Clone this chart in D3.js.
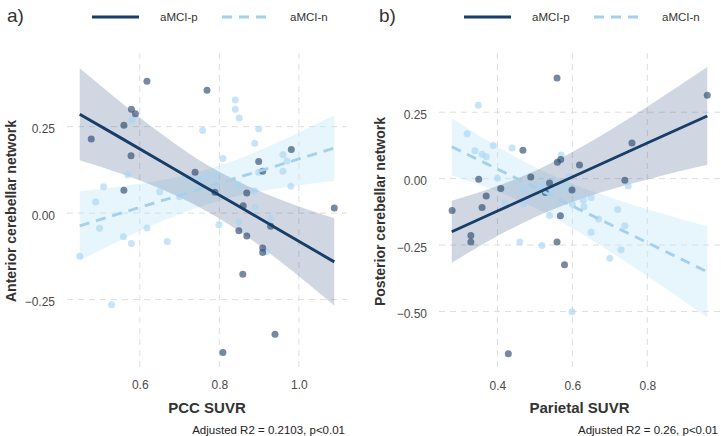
<!DOCTYPE html>
<html><head><meta charset="utf-8">
<script src="https://cdn.jsdelivr.net/npm/d3@7"></script>
<style>body{margin:0;background:#fff}svg{display:block;font-family:"Liberation Sans",Arial,sans-serif}</style>
</head><body><svg id="c" width="721" height="436"></svg>
<script>
// ---- Data ----
// Panel a: PCC SUVR vs Anterior cerebellar network
const aP_x = [0.478,0.618,0.579,0.589,0.560,0.578,0.560,0.769,0.739,0.899,0.909,0.981,0.789,0.869,0.860,1.089,0.849,0.869,0.909,0.909,0.929,0.859,0.940,0.809];
const aP_y = [0.214,0.381,0.300,0.287,0.254,0.166,0.066,0.355,0.118,0.149,0.121,0.184,0.060,0.058,0.021,0.015,-0.051,-0.066,-0.101,-0.114,-0.038,-0.177,-0.350,-0.403];
const aN_x = [0.840,0.840,0.850,0.580,0.758,0.899,0.889,0.960,0.970,0.809,0.570,0.899,0.960,0.770,0.789,0.751,0.849,0.980,0.509,0.650,0.700,0.889,0.489,0.890,0.499,0.559,0.579,0.618,0.669,0.449,0.799,0.849,0.929,0.919,0.529];
const aN_y = [0.327,0.300,0.275,0.270,0.239,0.243,0.202,0.169,0.151,0.158,0.111,0.118,0.121,0.105,0.110,0.098,0.081,0.078,0.076,0.062,0.047,0.064,0.032,0.016,-0.044,-0.068,-0.088,-0.043,-0.082,-0.125,-0.034,-0.025,-0.015,-0.112,-0.265];
const aBandX = [0.449,0.55,0.65,0.75,0.85,0.95,1.089];
const aP_fit = [0.286,0.219,0.152,0.085,0.019,-0.048,-0.141];
const aP_lo  = [0.153,0.115,0.071,0.017,-0.052,-0.137,-0.267];
const aP_hi  = [0.419,0.323,0.233,0.153,0.090,0.041,-0.015];
const aN_fit = [-0.037,-0.001,0.034,0.069,0.104,0.139,0.188];
const aN_lo  = [-0.137,-0.079,-0.026,0.018,0.051,0.072,0.093];
const aN_hi  = [0.063,0.077,0.094,0.120,0.157,0.206,0.283];
const aXTicks = [0.6,0.8,1.0];
const aYTicks = [-0.25,0,0.25];

// Panel b: Parietal SUVR vs Posterior cerebellar network
const bP_x = [0.559,0.960,0.759,0.468,0.560,0.569,0.619,0.489,0.350,0.740,0.539,0.409,0.528,0.599,0.370,0.359,0.279,0.329,0.329,0.568,0.559,0.579,0.429];
const bP_y = [0.379,0.314,0.134,0.107,0.062,0.072,0.051,0.006,-0.002,-0.006,-0.016,-0.037,-0.052,-0.043,-0.065,-0.109,-0.120,-0.214,-0.239,-0.140,-0.239,-0.324,-0.659];
const bN_x = [0.349,0.319,0.389,0.439,0.340,0.359,0.370,0.570,0.400,0.591,0.470,0.518,0.580,0.749,0.420,0.470,0.542,0.629,0.650,0.631,0.721,0.539,0.600,0.670,0.740,0.650,0.460,0.519,0.730,0.700,0.599];
const bN_y = [0.276,0.169,0.125,0.115,0.105,0.092,0.082,0.089,0.001,0.007,-0.041,-0.028,-0.036,-0.028,-0.091,-0.096,-0.052,-0.081,-0.071,-0.106,-0.116,-0.139,-0.096,-0.152,-0.177,-0.202,-0.239,-0.252,-0.268,-0.300,-0.501];
const bBandX = [0.278,0.4,0.5,0.6,0.7,0.8,0.96];
const bP_fit = [-0.200,-0.122,-0.058,0.006,0.070,0.134,0.236];
const bP_lo  = [-0.317,-0.216,-0.145,-0.088,-0.042,-0.003,0.052];
const bP_hi  = [-0.083,-0.028,0.029,0.100,0.182,0.271,0.420];
const bN_fit = [0.120,0.036,-0.033,-0.103,-0.172,-0.241,-0.351];
const bN_lo  = [0.013,-0.048,-0.110,-0.187,-0.274,-0.367,-0.523];
const bN_hi  = [0.227,0.120,0.044,-0.019,-0.070,-0.115,-0.179];
const bXTicks = [0.4,0.6,0.8];
const bYTicks = [-0.5,-0.25,0,0.25];

const groups = ["aMCI-p","aMCI-n"];

// ---- Styles ----
const C = {
  pLine:"#173d69", nLine:"#a5d0ec",
  pPt:"#2c4a6e", nPt:"#a9d6f5",
  pBand:"#2d4a7a", nBand:"#bfe6fb",
  grid:"#dedede", text:"#4a4a4a"
};

const svg = d3.select("#c");

function panel(o){
  const x = d3.scaleLinear().domain(o.xd).range([o.x0,o.x1]);
  const y = d3.scaleLinear().domain(o.yd).range([o.y1,o.y0]);
  const g = svg.append("g");
  // grid
  g.append("g").selectAll("line").data(o.xt).join("line")
    .attr("x1",d=>x(d)).attr("x2",d=>x(d)).attr("y1",o.y0).attr("y2",o.y1)
    .attr("stroke",C.grid).attr("stroke-width",1).attr("stroke-dasharray","6,5");
  g.append("g").selectAll("line").data(o.yt).join("line")
    .attr("y1",d=>y(d)).attr("y2",d=>y(d)).attr("x1",o.x0).attr("x2",o.x1)
    .attr("stroke",C.grid).attr("stroke-width",1).attr("stroke-dasharray","6,5");
  // axes (labels only)
  const xa = g.append("g").attr("transform",`translate(0,${o.y1+9})`)
    .call(d3.axisBottom(x).tickValues(o.xt).tickFormat(d3.format(".1f")).tickSize(0).tickPadding(4));
  const ya = g.append("g").attr("transform",`translate(${o.x0-8},0)`)
    .call(d3.axisLeft(y).tickValues(o.yt).tickFormat(d3.format(".2f")).tickSize(0).tickPadding(4));
  [xa,ya].forEach(a=>{a.select(".domain").remove();
    a.selectAll("text").attr("font-size",12).attr("fill",C.text).attr("font-family","Liberation Sans, Arial, sans-serif");});
  ya.selectAll("text").attr("dy","0.5em");

  const area = (xs,lo,hi)=>d3.area().x((d,i)=>x(xs[i])).y0((d,i)=>y(lo[i])).y1((d,i)=>y(hi[i])).curve(d3.curveMonotoneX)(xs);
  // bands
  g.append("path").attr("d",area(o.bx,o.nlo,o.nhi)).attr("fill",C.nBand).attr("opacity",0.38);
  g.append("path").attr("d",area(o.bx,o.plo,o.phi)).attr("fill",C.pBand).attr("opacity",0.22);
  // points
  g.append("g").selectAll("circle").data(o.nx).join("circle")
    .attr("cx",d=>x(d)).attr("cy",(d,i)=>y(o.ny[i])).attr("r",3.5)
    .attr("fill",C.nPt).attr("opacity",0.65);
  g.append("g").selectAll("circle").data(o.px).join("circle")
    .attr("cx",d=>x(d)).attr("cy",(d,i)=>y(o.py[i])).attr("r",3.5)
    .attr("fill",C.pPt).attr("opacity",0.65);
  // fit lines
  const line = (xs,ys)=>d3.line().x((d,i)=>x(xs[i])).y((d,i)=>y(ys[i]))(xs);
  g.append("path").attr("d",line(o.bx,o.nfit)).attr("fill","none")
    .attr("stroke",C.nLine).attr("stroke-width",2.9).attr("stroke-dasharray","10,7");
  g.append("path").attr("d",line(o.bx,o.pfit)).attr("fill","none")
    .attr("stroke",C.pLine).attr("stroke-width",2.9);

  // titles
  svg.append("text").attr("x",(o.x0+o.x1)/2).attr("y",413).attr("text-anchor","middle")
    .attr("font-size",15).attr("font-weight","bold").attr("fill","#333").text(o.xlab);
  svg.append("text").attr("transform",`translate(${o.ylx},${(o.y0+o.y1)/2 + 1}) rotate(-90)`)
    .attr("text-anchor","middle").attr("font-size",14).attr("font-weight","bold").attr("fill","#333").text(o.ylab);
  svg.append("text").attr("x",o.x1-2).attr("y",434).attr("text-anchor","end")
    .attr("font-size",11.5).attr("fill","#222").text(o.note);
  svg.append("text").attr("x",o.tagx).attr("y",22).attr("font-size",19).attr("fill","#333").text(o.tag);
  // legend
  const L = svg.append("g").attr("transform",`translate(${o.legx},17)`);
  L.append("line").attr("x1",0).attr("x2",47).attr("stroke",C.pLine).attr("stroke-width",2.9);
  L.append("text").attr("x",68).attr("y",4).attr("font-size",11.5).attr("fill","#333").text(groups[0]);
  L.append("line").attr("x1",130).attr("x2",177).attr("stroke",C.nLine).attr("stroke-width",2.9).attr("stroke-dasharray","10,7");
  L.append("text").attr("x",198).attr("y",4).attr("font-size",11.5).attr("fill","#333").text(groups[1]);
}

panel({x0:67,x1:347,y0:53,y1:367,xd:[0.417,1.121],yd:[-0.445,0.463],
  xt:aXTicks,yt:aYTicks,px:aP_x,py:aP_y,nx:aN_x,ny:aN_y,bx:aBandX,
  pfit:aP_fit,plo:aP_lo,phi:aP_hi,nfit:aN_fit,nlo:aN_lo,nhi:aN_hi,
  xlab:"PCC SUVR",ylab:"Anterior cerebellar network",ylx:16,
  note:"Adjusted R2 = 0.2103, p<0.01",tag:"a)",tagx:7,legx:92});
panel({x0:439,x1:720,y0:53,y1:368,xd:[0.244,0.994],yd:[-0.713,0.473],
  xt:bXTicks,yt:bYTicks,px:bP_x,py:bP_y,nx:bN_x,ny:bN_y,bx:bBandX,
  pfit:bP_fit,plo:bP_lo,phi:bP_hi,nfit:bN_fit,nlo:bN_lo,nhi:bN_hi,
  xlab:"Parietal SUVR",ylab:"Posterior cerebellar network",ylx:385,
  note:"Adjusted R2 = 0.26, p<0.01",tag:"b)",tagx:379,legx:464});
</script></body></html>
